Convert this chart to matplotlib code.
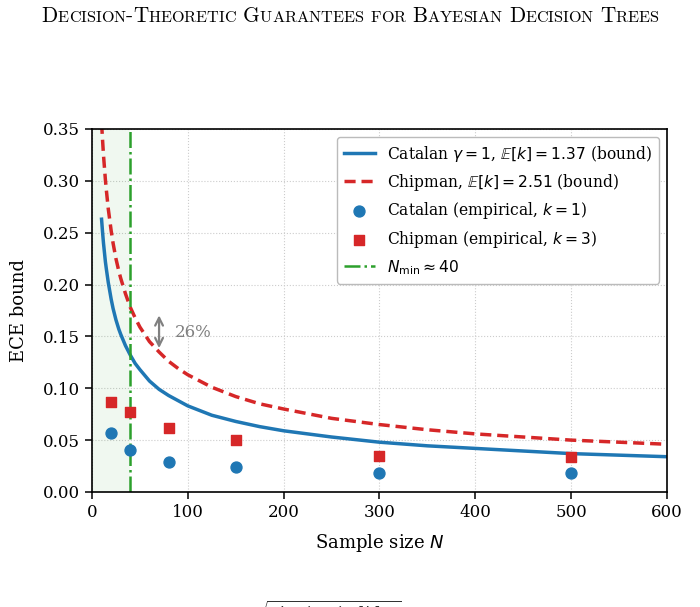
import matplotlib.pyplot as plt
from matplotlib.offsetbox import TextArea, HPacker, AnchoredOffsetbox

plt.rcParams['font.family'] = 'DejaVu Serif'
plt.rcParams['mathtext.fontset'] = 'dejavusans'

# bound curves
n_bound = [10, 11, 12, 13, 14, 15, 17, 20, 22, 25, 28, 30, 35, 40, 45, 50, 60, 70, 80, 90,
           100, 125, 150, 175, 200, 250, 300, 350, 400, 500, 600]
catalan_bound = [0.263, 0.251, 0.240, 0.231, 0.222, 0.215, 0.202, 0.186, 0.177, 0.166, 0.157,
                 0.152, 0.141, 0.132, 0.124, 0.118, 0.107, 0.099, 0.093, 0.088,
                 0.083, 0.074, 0.068, 0.063, 0.059, 0.053, 0.048, 0.0445, 0.042, 0.037, 0.034]
chipman_bound = [0.356, 0.340, 0.325, 0.313, 0.301, 0.291, 0.273, 0.252, 0.240, 0.225, 0.213,
                 0.206, 0.191, 0.178, 0.168, 0.159, 0.145, 0.135, 0.126, 0.119,
                 0.113, 0.101, 0.092, 0.085, 0.080, 0.071, 0.065, 0.060, 0.056, 0.050, 0.046]

# empirical points
n_emp = [20, 40, 80, 150, 300, 500]
catalan_emp = [0.057, 0.040, 0.029, 0.024, 0.018, 0.018]
chipman_emp = [0.087, 0.077, 0.062, 0.050, 0.035, 0.034]

n_min = 40

fig = plt.figure(figsize=(7, 6.07), dpi=100)
ax = fig.add_axes([0.1314, 0.1895, 0.8214, 0.598])

ax.axvspan(0, n_min, color='tab:green', alpha=0.07, lw=0)
ax.plot(n_bound, catalan_bound, color='#1f77b4', lw=2.5,
        label=r'Catalan $\gamma=1$, $\mathbb{E}[k]=1.37$ (bound)')
ax.plot(n_bound, chipman_bound, color='#d62728', lw=2.5, ls=(0, (3.2, 1.7)),
        label=r'Chipman, $\mathbb{E}[k]=2.51$ (bound)')
ax.scatter(n_emp, catalan_emp, color='#1f77b4', s=62, marker='o', zorder=3,
           label=r'Catalan (empirical, $k=1$)')
ax.scatter(n_emp, chipman_emp, color='#d62728', s=62, marker='s', zorder=3,
           label=r'Chipman (empirical, $k=3$)')
ax.axvline(n_min, color='#2ca02c', lw=1.8, ls='-.', label=r'$N_{\min}\approx 40$')

# gap annotation
ax.annotate('', xy=(70, 0.136), xytext=(70, 0.173),
            arrowprops=dict(arrowstyle='<->', color='gray', lw=1.6, mutation_scale=14))
ax.text(86, 0.154, '26%', color='gray', fontsize=12, va='center', ha='left')

ax.set_xlim(0, 600)
ax.set_ylim(0, 0.35)
ax.set_yticks([0, 0.05, 0.10, 0.15, 0.20, 0.25, 0.30, 0.35])
ax.set_yticklabels([f'{v:.2f}' for v in ax.get_yticks()])
ax.grid(True, ls=':', color='#cccccc', lw=0.8)
ax.set_axisbelow(True)
ax.tick_params(labelsize=12, length=5, width=1.1)
for s in ax.spines.values():
    s.set_linewidth(1.2)
ax.set_xlabel('Sample size $N$', fontsize=13, labelpad=8)
ax.set_ylabel('ECE bound', fontsize=13, labelpad=11)

leg = ax.legend(loc='upper right', fontsize=11.2, frameon=True, fancybox=True,
                edgecolor='#bbbbbb', framealpha=1.0, borderpad=0.45)

# running header in small caps (emulated)
words = 'Decision-Theoretic Guarantees for Bayesian Decision Trees'.split(' ')
parts = []
for wi, w in enumerate(words):
    for ch in w:
        big = ch.isupper() or not ch.isalpha()
        size = 15.3 if big else 11.7
        parts.append(TextArea(ch.upper(), textprops=dict(fontfamily='cmr10', fontsize=size)))
    if wi < len(words) - 1:
        parts.append(TextArea(' ', textprops=dict(fontfamily='cmr10', fontsize=15.3)))
header = HPacker(children=parts, align='baseline', pad=0, sep=0)
ab = AnchoredOffsetbox(loc='upper center', child=header, frameon=False,
                       bbox_to_anchor=(0.5, 0.99), bbox_transform=fig.transFigure,
                       borderpad=0, pad=0)
fig.add_artist(ab)

# caption line below the figure, only its top edge shows on the page crop
fig.text(33 / 700, 8 / 607,
         r'Crucially, we see that the $\sqrt{2\log(2/\delta)\,\mathbb{E}[k]/N}$ term dominates the bound for the Catalan prior',
         fontsize=12, ha='left', va='top', color='#333333')

fig.savefig('out.png', dpi=100)
